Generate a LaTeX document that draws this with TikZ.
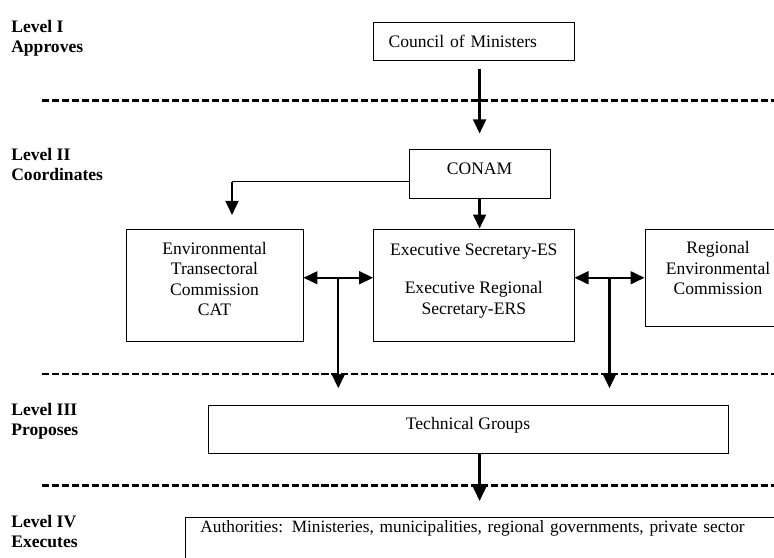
\documentclass[tikz,border=0pt]{standalone}
\usepackage{fontspec}
\setmainfont{Liberation Serif}
\usepackage{tikz}
\usetikzlibrary{arrows.meta,calc,positioning}

\tikzset{
  box/.style={draw,line width=0.7pt,rectangle,inner sep=0pt,align=center,
    font=\fontsize{12.5pt}{14.6pt}\selectfont},
  lvl/.style={inner sep=0pt,align=left,anchor=north west,
    font=\fontsize{12.5pt}{14.2pt}\selectfont\bfseries},
  arr/.style={line width=1.6pt,-{Triangle[width=0.32cm,length=0.35cm]}},
  dblarr/.style={line width=1.6pt,{Triangle[width=0.32cm,length=0.35cm]}-{Triangle[width=0.32cm,length=0.35cm]}},
  sep/.style={line width=1.8pt,dash pattern=on 5pt off 2.1pt},
}

\begin{document}
\begin{tikzpicture}
%
\useasboundingbox (0,0) rectangle (19.35cm,13.95cm);
\clip (0,0) rectangle (19.35cm,13.95cm);
%
\node[lvl] (l1) at (0.275cm,13.45cm) {Level I\\Approves};
\node[lvl] (l2) at (0.275cm,10.25cm) {Level II\\Coordinates};
\node[lvl] (l3) at (0.275cm,3.875cm) {Level III\\Proposes};
\node[lvl] (l4) at (0.275cm,1.075cm) {Level IV\\Executes};
%
\coordinate (s1a) at (1.05cm,11.432cm);
\coordinate (s1b) at (19.5cm,11.432cm);
\coordinate (s2a) at (1.05cm,4.6cm);
\coordinate (s2b) at (19.5cm,4.6cm);
\coordinate (s3a) at (1.05cm,1.807cm);
\coordinate (s3b) at (19.5cm,1.807cm);
\draw[sep] (s1a) -- (s1b);
\draw[sep] (s2a) -- (s2b);
\draw[sep] (s3a) -- (s3b);
%
\node[box,minimum width=5.01cm,minimum height=0.958cm,text width=4.26cm,align=left]
  (council) at (11.845cm,12.904cm) {Council of Ministers};
\node[box,minimum width=3.525cm,minimum height=1.2cm,text depth=7pt] (conam) at (11.99cm,9.6cm) {CONAM};
\node[box,minimum width=4.425cm,minimum height=2.8175cm,text depth=9pt] (cat) at (5.3625cm,6.816cm)
  {Environmental\\Transectoral\\Commission\\CAT};
\node[box,minimum width=5.01cm,minimum height=2.8175cm,text depth=9pt] (es) at (11.845cm,6.816cm)
  {Executive Secretary-ES\\[13pt]Executive Regional\\Secretary-ERS};
\node[box,minimum width=3.65cm,minimum height=2.425cm,text depth=13pt] (rec) at (17.95cm,7.0125cm)
  {Regional\\Environmental\\Commission};
\node[box,minimum width=13.0cm,minimum height=1.1825cm,text depth=8.5pt] (tg) at (11.7cm,3.216cm) {Technical Groups};
\node[box,anchor=north west,minimum width=15.125cm,inner xsep=0.375cm,inner ysep=0.08cm,
  text depth=1cm,text width=14.375cm,align=left,font=\fontsize{12.3pt}{14.6pt}\selectfont]
  (auth) at (4.625cm,1.025cm)
  {Authorities: Ministeries, municipalities, regional governments, private sector};
%
\draw[arr,shorten <=0.2cm,shorten >=0.4cm] (council.south -| conam.north) -- (conam.north);
\draw[arr] (conam.south) -- (es.north -| conam.south);
%
\coordinate (cbend) at ([yshift=-0.2cm]conam.west -| 5.8cm,0);
\coordinate (cattop) at (5.8cm,8.575cm);
\draw[line width=0.7pt] ([yshift=-0.2cm]conam.west) -- (cbend);
\draw[arr] (cbend) -- (cattop);
%
\coordinate (jl) at ($([yshift=0.19cm]cat.east)!0.5!([yshift=0.19cm]es.west)$);
\coordinate (jr) at ($([yshift=0.19cm]es.east)!0.5!([yshift=0.19cm]es.east -| rec.west)$);
\draw[dblarr] ([yshift=0.19cm]cat.east) -- ([yshift=0.19cm]es.west);
\draw[dblarr] ([yshift=0.19cm]es.east) -- ([yshift=0.19cm]es.east -| rec.west);
\draw[arr,shorten >=0.425cm] (jl) -- (jl |- tg.north);
\draw[arr,shorten >=0.425cm] (jr) -- (jr |- tg.north);
%
\draw[arr,shorten >=0.4cm] (tg.south -| conam.south) -- (auth.north -| conam.south);
%
\end{tikzpicture}
\end{document}
